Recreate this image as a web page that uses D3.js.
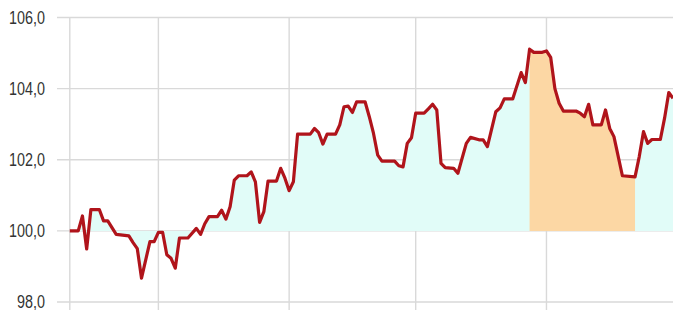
<!DOCTYPE html>
<html>
<head>
<meta charset="utf-8">
<script src="https://cdn.jsdelivr.net/npm/d3@7"></script>
<style>
  html, body { margin: 0; padding: 0; background: #fff; }
  svg { display: block; }
</style>
</head>
<body>
<svg id="chart" width="673" height="310"></svg>
<script>
// Day index since series start, and index value (base = 100)
const days = [0,2,3,4,5,7,8,9,11,14,15,16,17,19,20,21,22,23,24,25,26,28,30,31,32,33,35,36,37,38,39,40,42,43,44,45,46,47,49,50,51,52,53,54,57,58,59,60,61,63,64,65,66,67,68,70,71,72,73,74,77,78,79,80,81,82,84,85,86,87,88,89,91,92,94,95,97,98,99,101,102,103,105,107,108,109,110,112,113,114,115,116,117,120,121,122,123,124,126,127,128,129,131,134,135,136,137,138,140,141,142,143];
const values = [100.0,100.0,100.42,99.49,100.6,100.6,100.28,100.28,99.9,99.86,99.67,99.5,98.67,99.7,99.7,99.96,99.96,99.33,99.23,98.95,99.8,99.8,100.07,99.9,100.2,100.4,100.4,100.58,100.33,100.68,101.43,101.55,101.55,101.66,101.38,100.24,100.54,101.4,101.4,101.76,101.48,101.13,101.38,102.72,102.72,102.88,102.76,102.44,102.72,102.72,102.98,103.49,103.51,103.33,103.63,103.63,103.21,102.74,102.13,101.96,101.96,101.83,101.8,102.46,102.62,103.31,103.31,103.43,103.56,103.4,101.9,101.78,101.76,101.62,102.46,102.63,102.56,102.56,102.37,103.35,103.46,103.71,103.71,104.45,104.17,105.11,105.02,105.02,105.06,104.88,104.0,103.59,103.37,103.37,103.31,103.21,103.56,102.98,102.98,103.4,102.88,102.65,101.55,101.52,102.09,102.79,102.46,102.57,102.57,103.17,103.89,103.73];
// Vertical grid positions (day index of period starts)
const xTicks = [0, 21, 52, 82, 113];
// Y ticks and labels
const yTicks = [98, 100, 102, 104, 106];
const yTickLabels = ["98,0", "100,0", "102,0", "104,0", "106,0"];
// Highlighted period (day range)
const highlight = [109, 134];
const baseValue = 100;

const data = days.map((d, i) => ({ d, v: values[i] }));

const svg = d3.select("#chart");
const x = d3.scaleLinear().domain([0, 143]).range([69.8, 673]);
const y = d3.scaleLinear().domain([98, 106]).range([302, 17.5]);

// horizontal gridlines
svg.append("g").selectAll("line").data(yTicks).join("line")
  .attr("x1", 57).attr("x2", 673)
  .attr("y1", d => y(d)).attr("y2", d => y(d))
  .attr("stroke", "#d9d9d9").attr("stroke-width", 1.4);

// vertical gridlines
svg.append("g").selectAll("line").data(xTicks).join("line")
  .attr("x1", d => x(d)).attr("x2", d => x(d))
  .attr("y1", y(106)).attr("y2", 310)
  .attr("stroke", "#d9d9d9").attr("stroke-width", 1.4);

// y labels (condensed look via horizontal scaling)
svg.append("g").selectAll("text").data(yTicks).join("text")
  .attr("transform", d => `translate(45,${y(d)}) scale(0.82,1)`)
  .attr("dy", "0.36em")
  .attr("text-anchor", "end")
  .attr("font-family", "'Liberation Sans', Arial, sans-serif")
  .attr("font-size", 17.5)
  .attr("fill", "#333")
  .text((d, i) => yTickLabels[i]);

const area = d3.area()
  .x(p => x(p.d))
  .y0(y(baseValue))
  .y1(p => y(p.v));

svg.append("path").datum(data)
  .attr("d", area)
  .attr("fill", "#e1fcf8");

svg.append("path").datum(data.filter(p => p.d >= highlight[0] && p.d <= highlight[1]))
  .attr("d", area)
  .attr("fill", "#fcd7a4");

const line = d3.line().x(p => x(p.d)).y(p => y(p.v));
svg.append("path").datum(data)
  .attr("d", line)
  .attr("fill", "none")
  .attr("stroke", "#b0141b")
  .attr("stroke-width", 3.2)
  .attr("stroke-linejoin", "round");
</script>
</body>
</html>
